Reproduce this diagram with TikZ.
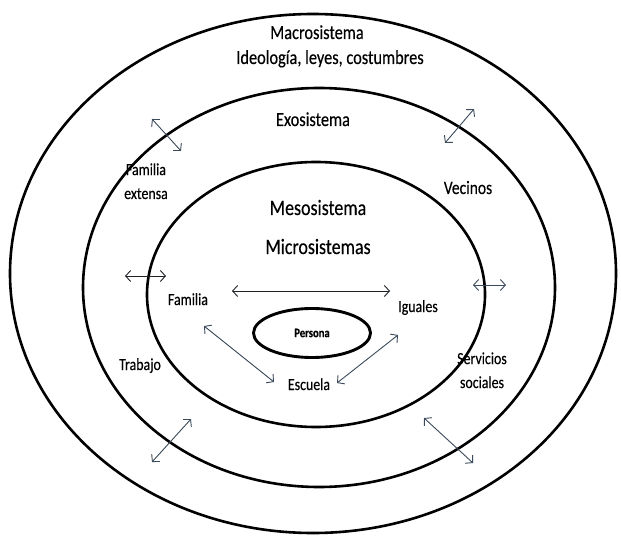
\documentclass[tikz,border=0pt]{standalone}
\usepackage{fontspec}
\setmainfont{Carlito}[FakeBold=0.35]
\usetikzlibrary{arrows.meta,shapes.geometric}
\definecolor{linkgray}{HTML}{3B4A5A}
\definecolor{linkdark}{HTML}{1E2226}
\begin{document}
\begin{tikzpicture}[x=1bp,y=-1bp,
  ring/.style={draw=black, line width=2.6bp},
  narrow/.style={inner sep=0pt, anchor=base, xscale=0.82},
  txt/.style={narrow, font=\fontsize{17}{24}\selectfont, align=center},
  big/.style={narrow, font=\fontsize{20}{24}\selectfont},
  huge/.style={narrow, font=\fontsize{22}{24}\selectfont},
  barb/.tip={Straight Barb[length=5bp,width=11bp]},
  link/.style={draw=linkgray, line width=0.9bp, barb-barb},
  linkd/.style={link, draw=linkdark}]
\useasboundingbox (0,0) rectangle (621,536);
\fill[white] (0,0) rectangle (621,536);

% the three nested systems
\draw[ring] (313,273.5) ellipse [x radius=303, y radius=259.5];
\draw[ring] (319,287.5) ellipse [x radius=236, y radius=199.5];
\draw[ring] (316,294.5) ellipse [x radius=169, y radius=132.5];

% the person at the centre
\node[draw=black, line width=2.9bp, ellipse, minimum width=117bp, minimum height=49bp] (persona) at (312,333) {};
\node[narrow, anchor=center, font=\bfseries\fontsize{13}{15}\selectfont] (personatxt) at (persona.center) {Persona};

% system labels
\node[big] (macro) at (317,39) {Macrosistema};
\node[big] (ideo) at (330,64) {Ideología, leyes, costumbres};
\node[big] (exo) at (313,126) {Exosistema};
\node[huge] (meso) at (318,215) {Mesosistema};
\node[huge] (micro) at (318,254) {Microsistemas};

% settings
\node[txt] (famext) at (146,199) {Familia\\extensa};
\node[txt, font=\fontsize{19}{24}\selectfont] (vecinos) at (468,194) {Vecinos};
\node[txt] (trabajo) at (140,370) {Trabajo};
\node[txt] (servicios) at (482,388) {Servicios\\sociales};
\node[txt] (familia) at (188,305) {Familia};
\node[txt] (iguales) at (418,312) {Iguales};
\node[txt] (escuela) at (309,390) {Escuela};

% arrow ends
\coordinate (a1s) at (232,291); \coordinate (a1e) at (390,291);
\coordinate (a2s) at (204,326); \coordinate (a2e) at (274,382);
\coordinate (a3s) at (337,383); \coordinate (a3e) at (398,335);
\coordinate (a4s) at (125,276); \coordinate (a4e) at (166,276);
\coordinate (a5s) at (473,285); \coordinate (a5e) at (506,285);
\coordinate (a6s) at (152,119); \coordinate (a6e) at (181,151);
\coordinate (a7s) at (445,143); \coordinate (a7e) at (474,109);
\coordinate (a8s) at (152,462); \coordinate (a8e) at (191,419);
\coordinate (a9s) at (424,418); \coordinate (a9e) at (473,463);

% interactions
\draw[linkd] (a1s) -- (a1e);
\draw[link] (a2s) -- (a2e);
\draw[link] (a3s) -- (a3e);
\draw[linkd] (a4s) -- (a4e);
\draw[link] (a5s) -- (a5e);
\draw[link] (a6s) -- (a6e);
\draw[link] (a7s) -- (a7e);
\draw[link] (a8s) -- (a8e);
\draw[link] (a9s) -- (a9e);
\end{tikzpicture}
\end{document}
